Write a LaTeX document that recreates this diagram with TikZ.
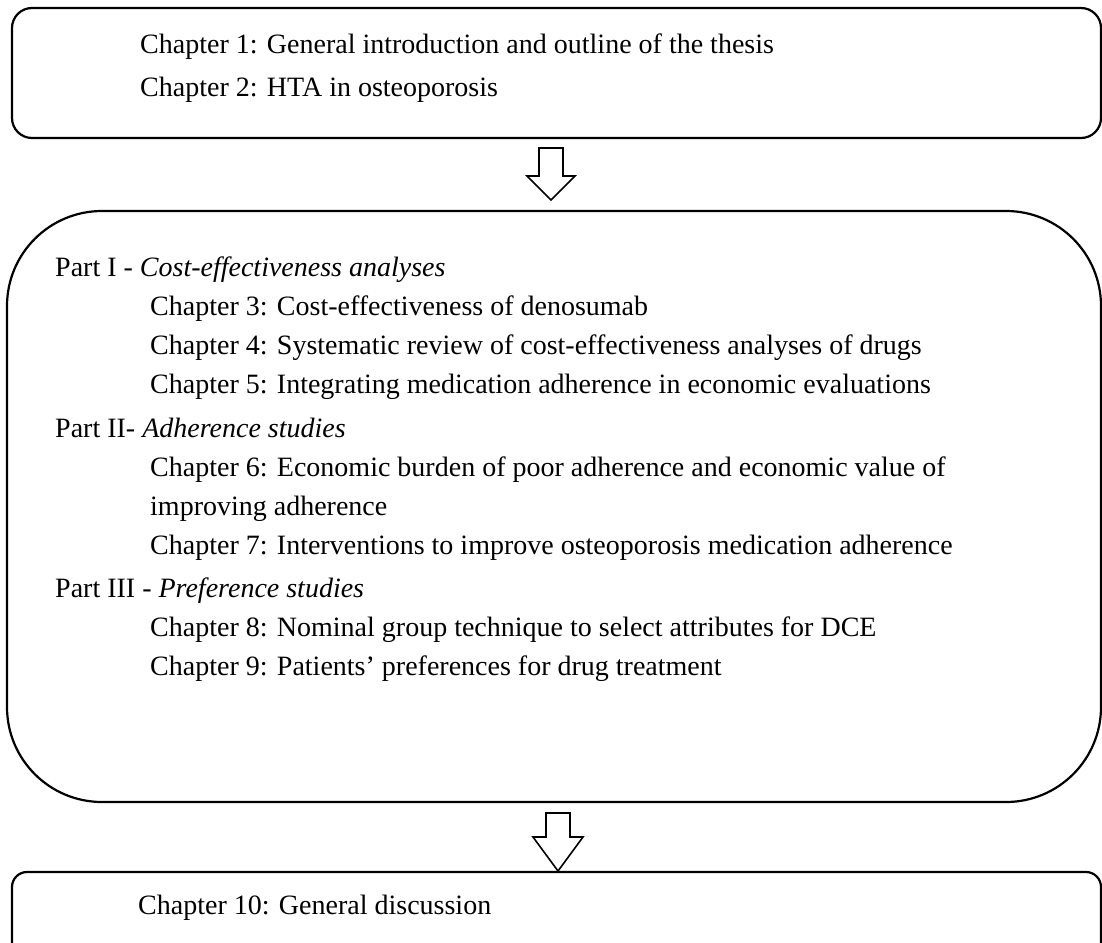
\documentclass[tikz,border=0pt]{standalone}
\usepackage{fontspec}
\setmainfont{Liberation Serif}
\begin{document}
\begin{tikzpicture}[x=1pt,y=-1pt,
  frame/.style={draw=black,line width=2.2pt},
  blockarrow/.style={draw=black,line width=1.6pt,fill=white,line join=miter},
  txt/.style={anchor=base west,inner sep=0pt,font=\fontsize{28}{33}\selectfont}]
\useasboundingbox (0,0) rectangle (1102,942);
% boxes
\draw[frame,rounded corners=20pt] (12,8) rectangle (1101,138);
\node[inner sep=0pt] (top) at (556,73) {};
\draw[frame,rounded corners=95pt] (7,211) rectangle (1101,802);
\node[inner sep=0pt] (mid) at (554,506) {};
\draw[frame,rounded corners=15pt] (12,872) rectangle (1101,975);
\node[inner sep=0pt] (bot) at (556,910) {};
% block arrows
\draw[blockarrow] (539,148) -- (563,148) -- (563,176) -- (575,176) -- (551,200) -- (527,176) -- (539,176) -- cycle;
\draw[blockarrow] (546,813) -- (570,813) -- (570,837) -- (583,837) -- (558,871) -- (533,837) -- (546,837) -- cycle;
% top text
\node[txt] (c1) at (140,54) {Chapter 1: General introduction and outline of the thesis};
\node[txt] (c2) at (140,96) {Chapter 2: HTA in osteoporosis};
% middle text
\node[txt] (p1) at (55,276) {Part I - \textit{Cost-effectiveness analyses}};
\node[txt] (c3) at (150,315) {Chapter 3: Cost-effectiveness of denosumab};
\node[txt] (c4) at (150,354) {Chapter 4: Systematic review of cost-effectiveness analyses of drugs};
\node[txt] (c5) at (150,393) {Chapter 5: Integrating medication adherence in economic evaluations};
\node[txt] (p2) at (55,437) {Part II- \textit{Adherence studies}};
\node[txt] (c6) at (150,476) {Chapter 6: Economic burden of poor adherence and economic value of};
\node[txt] (c6b) at (150,515) {improving adherence};
\node[txt] (c7) at (150,554) {Chapter 7: Interventions to improve osteoporosis medication adherence};
\node[txt] (p3) at (55,597) {Part III - \textit{Preference studies}};
\node[txt] (c8) at (150,636) {Chapter 8: Nominal group technique to select attributes for DCE};
\node[txt] (c9) at (150,675) {Chapter 9: Patients’ preferences for drug treatment};
% bottom text
\node[txt] (c10) at (138,914) {Chapter 10: General discussion};
\end{tikzpicture}
\end{document}
